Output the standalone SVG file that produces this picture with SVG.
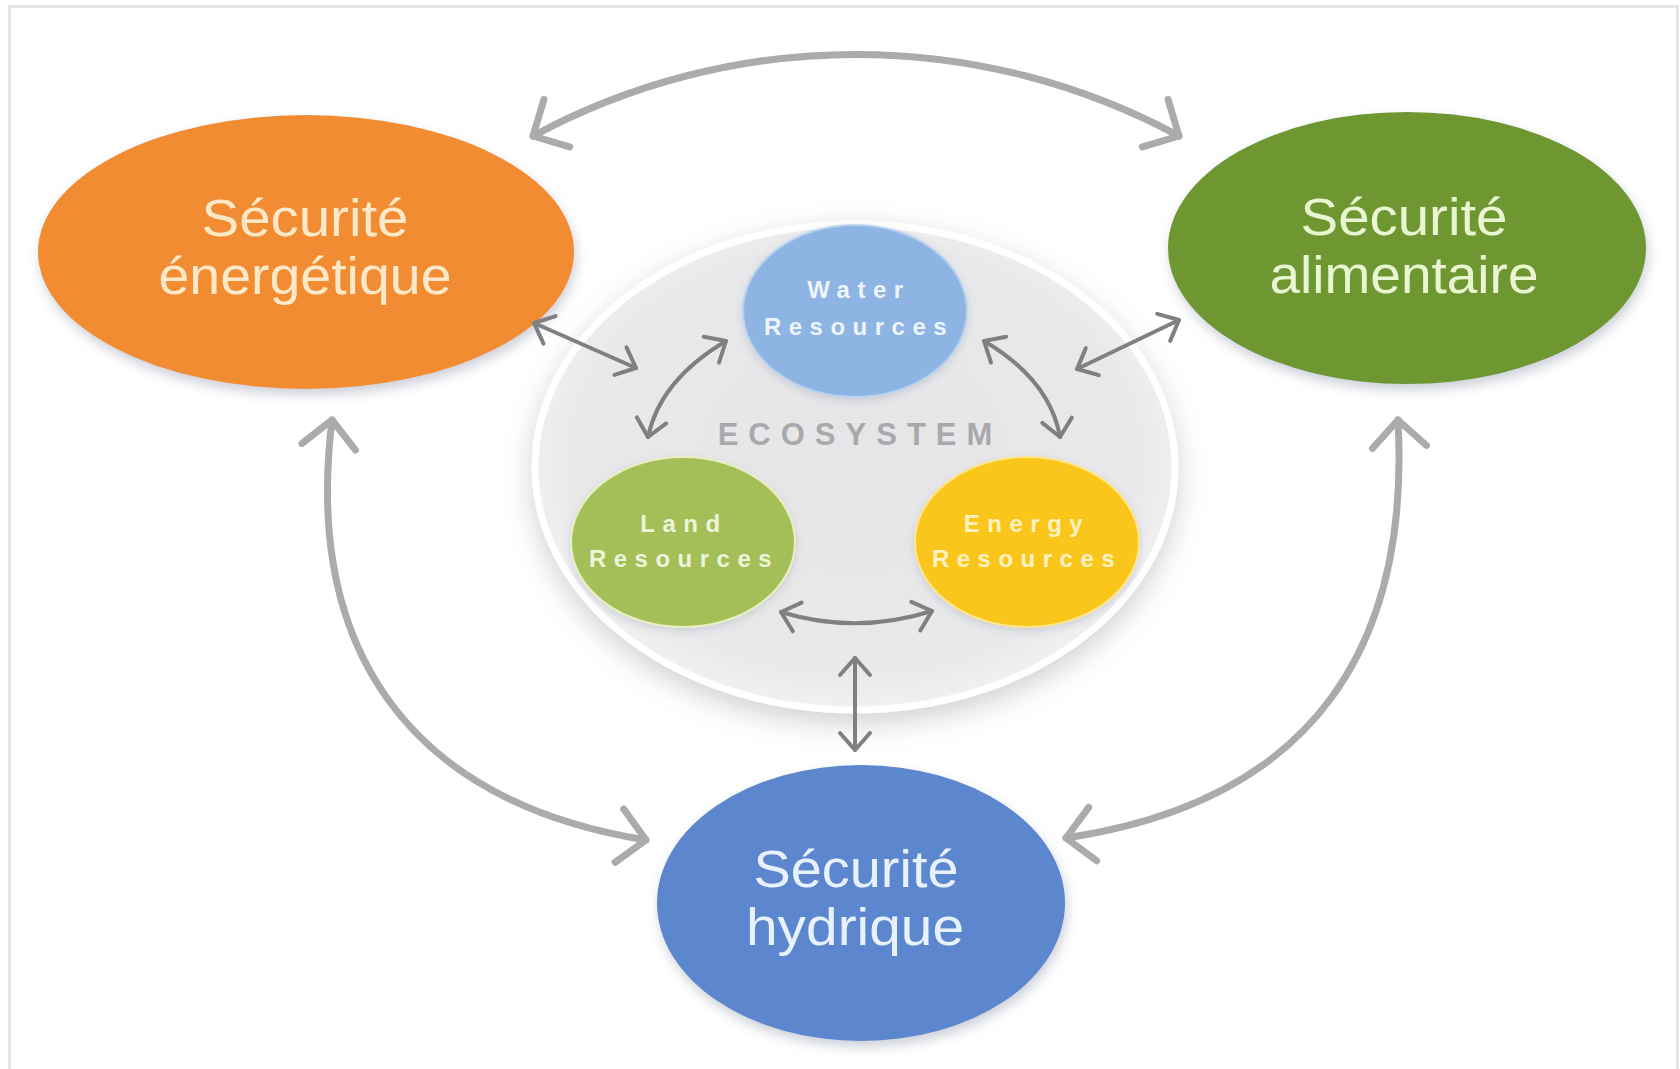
<svg xmlns="http://www.w3.org/2000/svg" width="1680" height="1069" viewBox="0 0 1680 1069">
  <style>
    .big { font-family: "Liberation Sans", Arial, sans-serif; font-size: 51px; text-anchor: middle; }
    .res { font-family: "Liberation Sans", Arial, sans-serif; font-size: 24px; font-weight: bold; letter-spacing: 7.5px; text-anchor: middle; }
    .eco { font-family: "Liberation Sans", Arial, sans-serif; font-size: 31px; font-weight: bold; letter-spacing: 10px; text-anchor: middle; fill: #a9a9ab; }
    .outer { fill: none; stroke: #ababab; stroke-width: 7; stroke-linecap: round; }
    .inner { fill: none; stroke: #808080; stroke-width: 4; stroke-linecap: round; }
  </style>
  <defs>
    <filter id="sh" x="-20%" y="-20%" width="140%" height="140%">
      <feDropShadow dx="2" dy="6" stdDeviation="6" flood-color="#6d7890" flood-opacity="0.35"/>
    </filter>
    <filter id="shs" x="-20%" y="-20%" width="140%" height="140%">
      <feDropShadow dx="0" dy="3" stdDeviation="4" flood-color="#8890a8" flood-opacity="0.3"/>
    </filter>
    <filter id="eco" x="-20%" y="-20%" width="140%" height="140%">
      <feDropShadow dx="0" dy="10" stdDeviation="14" flood-color="#9a9aa0" flood-opacity="0.45"/>
    </filter>
    <radialGradient id="ecoFill" cx="50%" cy="48%" r="55%">
      <stop offset="0%" stop-color="#e6e6e8"/>
      <stop offset="80%" stop-color="#e9e9eb"/>
      <stop offset="100%" stop-color="#f4f4f5"/>
    </radialGradient>
    <marker id="ao" viewBox="-40 -40 80 80" markerWidth="80" markerHeight="80" refX="0" refY="0" orient="auto-start-reverse" markerUnits="userSpaceOnUse">
      <path d="M -27 -27 L 0 0 L -27 27" fill="none" stroke="#ababab" stroke-width="7" stroke-linecap="round" stroke-linejoin="round"/>
    </marker>
    <marker id="ai" viewBox="-30 -30 60 60" markerWidth="60" markerHeight="60" refX="0" refY="0" orient="auto-start-reverse" markerUnits="userSpaceOnUse">
      <path d="M -17 -15 L 0 0 L -17 15" fill="none" stroke="#808080" stroke-width="4" stroke-linecap="round" stroke-linejoin="round"/>
    </marker>
  </defs>

  <rect x="0" y="0" width="1680" height="1069" fill="#ffffff"/>
  <rect x="9.5" y="6.5" width="1668" height="1075" fill="none" stroke="#e6e6e6" stroke-width="3"/>

  <g id="ecosystem">
    <ellipse cx="855" cy="467" rx="320" ry="243" fill="url(#ecoFill)" stroke="#ffffff" stroke-width="7" filter="url(#eco)"/>
    <text class="eco" x="860" y="445">ECOSYSTEM</text>
  </g>

  <g id="water">
    <ellipse cx="855" cy="311" rx="112" ry="86" fill="#8db4e3" stroke="#b9d3ef" stroke-width="2" filter="url(#shs)"/>
    <text class="res" fill="#eef4fb"><tspan x="859" y="298">Water</tspan><tspan x="859" y="335">Resources</tspan></text>
  </g>

  <g id="land">
    <ellipse cx="683" cy="542" rx="112" ry="85" fill="#a4be58" stroke="#e8f0c0" stroke-width="2" filter="url(#shs)"/>
    <text class="res" fill="#eef4da"><tspan x="684" y="532">Land</tspan><tspan x="684" y="567">Resources</tspan></text>
  </g>

  <g id="energy">
    <ellipse cx="1027" cy="542" rx="112" ry="85" fill="#fac61c" stroke="#fde58a" stroke-width="2" filter="url(#shs)"/>
    <text class="res" fill="#fff2c2"><tspan x="1027" y="532">Energy</tspan><tspan x="1027" y="567">Resources</tspan></text>
  </g>

  <g id="securite-energetique">
    <ellipse cx="306" cy="252" rx="268" ry="137" fill="#f18c30" filter="url(#sh)"/>
    <text class="big" fill="#fde8c8" x="305" y="236" textLength="207" lengthAdjust="spacingAndGlyphs">Sécurité</text>
    <text class="big" fill="#fde8c8" x="305" y="294" textLength="293" lengthAdjust="spacingAndGlyphs">énergétique</text>
  </g>

  <g id="securite-alimentaire">
    <ellipse cx="1407" cy="248" rx="239" ry="136" fill="#6e9733" filter="url(#sh)"/>
    <text class="big" fill="#eaf6d2" x="1404" y="235" textLength="207" lengthAdjust="spacingAndGlyphs">Sécurité</text>
    <text class="big" fill="#eaf6d2" x="1404" y="293" textLength="269" lengthAdjust="spacingAndGlyphs">alimentaire</text>
  </g>

  <g id="securite-hydrique">
    <ellipse cx="861" cy="903" rx="204" ry="138" fill="#5b87cf" filter="url(#sh)"/>
    <text class="big" fill="#e8f2ff" x="856" y="887" textLength="205" lengthAdjust="spacingAndGlyphs">Sécurité</text>
    <text class="big" fill="#e8f2ff" x="855" y="945" textLength="218" lengthAdjust="spacingAndGlyphs">hydrique</text>
  </g>

  <g id="connectors">
    <path class="outer" d="M 533 136 A 680 680 0 0 1 1179 136" marker-start="url(#ao)" marker-end="url(#ao)"/>
    <path class="outer" d="M 332 420 C 305 640, 400 800, 646 840" marker-start="url(#ao)" marker-end="url(#ao)"/>
    <path class="outer" d="M 1398 420 C 1410 640, 1320 800, 1066 838" marker-start="url(#ao)" marker-end="url(#ao)"/>
    <path class="inner" d="M 534 323 L 636 368" marker-start="url(#ai)" marker-end="url(#ai)"/>
    <path class="inner" d="M 726 341 Q 660 380, 648 437" marker-start="url(#ai)" marker-end="url(#ai)"/>
    <path class="inner" d="M 984 341 Q 1050 380, 1060 437" marker-start="url(#ai)" marker-end="url(#ai)"/>
    <path class="inner" d="M 781 612 Q 856 635, 932 611" marker-start="url(#ai)" marker-end="url(#ai)"/>
    <path class="inner" d="M 855 658 L 855 750" marker-start="url(#ai)" marker-end="url(#ai)"/>
    <path class="inner" d="M 1077 369 L 1179 320" marker-start="url(#ai)" marker-end="url(#ai)"/>
  </g>
</svg>
